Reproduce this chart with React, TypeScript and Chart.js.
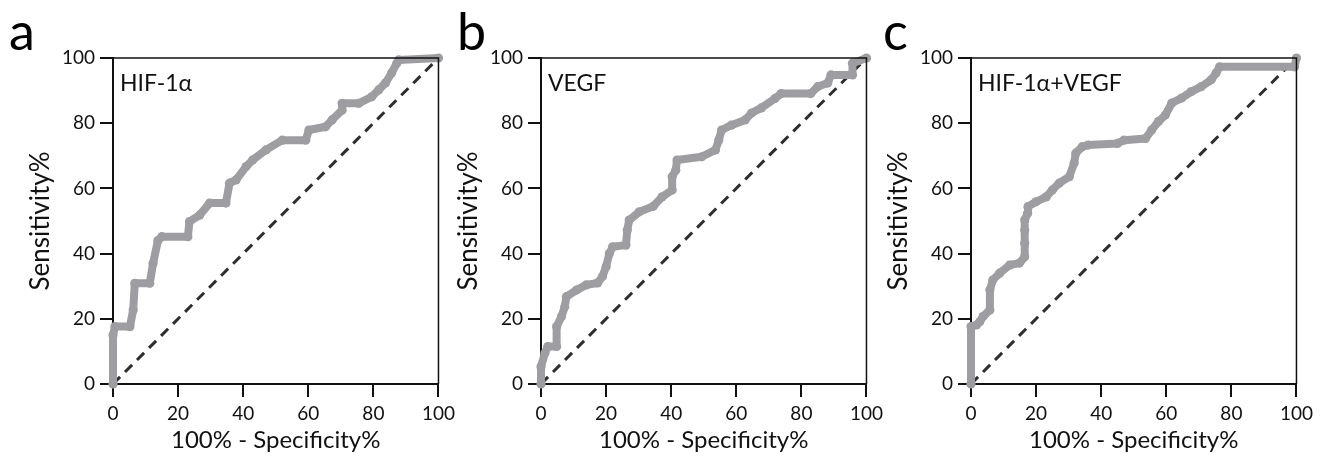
import { useEffect, useRef } from "react";
import { Chart, registerables } from "chart.js";

Chart.register(...registerables);

// ---- Data ----
const AXIS_TICKS = [0, 20, 40, 60, 80, 100];
const DIAG_X = [0, 100];
const DIAG_Y = [0, 100];

const A_FPR = [0, 0, 0.6, 5.2, 6.2, 6.7, 11.3, 12.3, 13.8, 15.0, 23.0, 23.5, 26.6, 29.7, 34.7, 35.8, 37.8, 40.9, 42.9, 47.0, 52.0, 59.2, 60.2, 65.3, 67.3, 70.4, 70.4, 75.5, 79.5, 81.6, 83.7, 85.6, 87.2, 87.8, 100];
const A_SENS = [0, 15.0, 17.6, 17.6, 22.7, 30.9, 30.9, 37.0, 44.0, 45.2, 45.2, 49.8, 51.8, 55.5, 55.5, 61.6, 62.6, 66.7, 68.7, 71.8, 74.8, 74.8, 77.9, 78.9, 81.0, 84.0, 86.1, 86.1, 88.1, 90.2, 92.3, 95.4, 98.4, 99.4, 100];

const B_FPR = [0, 0, 1.2, 2.1, 4.8, 4.8, 6.3, 7.3, 7.8, 10.9, 13.9, 17.4, 18.9, 20.0, 21.0, 22.0, 26.1, 26.5, 27.1, 30.2, 34.5, 37.2, 40.3, 40.3, 41.4, 41.8, 49.4, 53.6, 54.6, 55.5, 58.5, 62.7, 64.7, 67.7, 71.9, 73.8, 82.9, 85.0, 88.1, 89.1, 95.7, 95.7, 100];
const B_SENS = [0, 5.3, 9.5, 11.5, 11.5, 17.6, 20.7, 23.7, 26.8, 28.8, 30.4, 31.0, 33.0, 36.0, 40.0, 42.1, 42.6, 47.2, 50.3, 52.8, 54.5, 57.4, 59.5, 63.6, 65.6, 68.7, 69.7, 71.8, 74.8, 77.9, 79.4, 81.0, 83.1, 84.7, 87.6, 89.1, 89.1, 91.2, 92.3, 94.8, 94.8, 98.4, 100];

const C_FPR = [0, 0, 1.7, 2.7, 3.7, 5.8, 5.8, 6.7, 8.8, 11.9, 14.9, 16.5, 16.5, 16.5, 16.5, 17.4, 17.5, 20.0, 23.1, 25.0, 27.1, 30.2, 31.7, 32.2, 34.2, 36.0, 45.0, 47.0, 53.6, 55.5, 57.6, 59.7, 61.7, 64.7, 67.7, 70.7, 73.8, 75.3, 76.4, 99.4, 100];
const C_SENS = [0, 17.6, 18.1, 19.1, 20.7, 22.7, 28.8, 31.9, 34.0, 36.5, 37.1, 39.0, 43.2, 47.2, 50.3, 52.4, 54.4, 55.9, 57.4, 59.5, 61.6, 63.6, 67.8, 70.8, 72.8, 73.3, 73.8, 74.8, 75.3, 77.9, 80.5, 82.5, 86.2, 87.7, 89.7, 91.2, 93.3, 95.4, 97.3, 97.3, 100];

const PANEL_LETTERS = ["a", "b", "c"];
const PANEL_LABELS = ["HIF-1α", "VEGF", "HIF-1α+VEGF"];
const X_TITLE = "100% - Specificity%";
const Y_TITLE = "Sensitivity%";

const FONT = "Lato, 'Open Sans', sans-serif";
const INK = "#111111";
const CURVE = "#9e9ea2";

type PanelProps = {
  left: number;
  rightPad: number;
  letter: string;
  letterX: number;
  label: string;
  xs: number[];
  ys: number[];
};

const CANVAS_W = 460;
const CANVAS_H = 460;

function Panel({ left, rightPad, letter, letterX, label, xs, ys }: PanelProps) {
  const ref = useRef<HTMLCanvasElement | null>(null);

  useEffect(() => {
    if (!ref.current) return;
    const decor = {
      id: "decor",
      afterDraw(chart: any) {
        const { ctx, chartArea } = chart;
        ctx.save();
        // top and right frame
        ctx.strokeStyle = INK;
        ctx.lineWidth = 1.5;
        ctx.beginPath();
        ctx.moveTo(chartArea.left, chartArea.top);
        ctx.lineTo(chartArea.right, chartArea.top);
        ctx.lineTo(chartArea.right, chartArea.bottom);
        ctx.stroke();
        // panel letter
        ctx.fillStyle = "#000";
        ctx.textBaseline = "alphabetic";
        ctx.textAlign = "left";
        ctx.font = `52px ${FONT}`;
        ctx.fillText(letter, letterX, 50);
        // inner label
        ctx.fillStyle = INK;
        ctx.font = `23px ${FONT}`;
        ctx.fillText(label, chartArea.left + 7, 91);
        ctx.restore();
      },
    };
    const points = xs.map((x, i) => ({ x, y: ys[i] }));
    const diag = DIAG_X.map((x, i) => ({ x, y: DIAG_Y[i] }));
    const tickFont = { family: FONT, size: 19 };
    const chart = new Chart(ref.current, {
      type: "scatter",
      data: {
        datasets: [
          {
            data: points,
            showLine: true,
            borderColor: CURVE,
            backgroundColor: CURVE,
            pointBackgroundColor: CURVE,
            pointBorderColor: CURVE,
            borderWidth: 8,
            pointRadius: 4.6,
            pointBorderWidth: 0,
            borderJoinStyle: "round",
            borderCapStyle: "round",
            clip: false,
          } as any,
          {
            data: diag,
            showLine: true,
            borderColor: "#2e2e2e",
            borderWidth: 3,
            borderDash: [10, 7],
            pointRadius: 0,
            clip: false,
          } as any,
        ],
      },
      options: {
        responsive: false,
        animation: false,
        devicePixelRatio: 1,
        layout: { padding: { left: 0, right: rightPad, top: 58, bottom: 0 } },
        plugins: { legend: { display: false }, tooltip: { enabled: false } },
        scales: {
          x: {
            type: "linear",
            min: 0,
            max: 100,
            afterBuildTicks: (s: any) => {
              s.ticks = AXIS_TICKS.map((v) => ({ value: v }));
            },
            afterFit: (s: any) => {
              s.height = 76;
            },
            ticks: { color: INK, font: tickFont, padding: 5, maxRotation: 0, autoSkip: false },
            grid: { drawOnChartArea: false, drawTicks: true, tickLength: 13, color: INK, lineWidth: 2 },
            border: { display: true, color: INK, width: 2 },
            title: { display: true, text: X_TITLE, color: INK, font: { family: FONT, size: 24 }, padding: { top: 0, bottom: 5 } },
          },
          y: {
            type: "linear",
            min: 0,
            max: 100,
            afterBuildTicks: (s: any) => {
              s.ticks = AXIS_TICKS.map((v) => ({ value: v }));
            },
            afterFit: (s: any) => {
              s.width = 113;
            },
            ticks: { color: INK, font: tickFont, padding: 5, autoSkip: false },
            grid: { drawOnChartArea: false, drawTicks: true, tickLength: 13, color: INK, lineWidth: 2 },
            border: { display: true, color: INK, width: 2 },
            title: { display: true, text: Y_TITLE, color: INK, font: { family: FONT, size: 26 }, padding: { top: 25, bottom: 0 } },
          },
        },
      },
      plugins: [decor],
    } as any);
    return () => chart.destroy();
  }, [left, rightPad, letter, letterX, label, xs, ys]);

  return (
    <canvas
      ref={ref}
      width={CANVAS_W}
      height={CANVAS_H}
      style={{ position: "absolute", left, top: 0, width: CANVAS_W, height: CANVAS_H }}
    />
  );
}

export default function App() {
  return (
    <div style={{ position: "absolute", left: 0, top: 0, width: 1332, height: 460, background: "#fff", overflow: "hidden" }}>
      <Panel left={0} rightPad={20} letter={PANEL_LETTERS[0]} letterX={9} label={PANEL_LABELS[0]} xs={A_FPR} ys={A_SENS} />
      <Panel left={428} rightPad={19} letter={PANEL_LETTERS[1]} letterX={29} label={PANEL_LABELS[1]} xs={B_FPR} ys={B_SENS} />
      <Panel left={858} rightPad={19} letter={PANEL_LETTERS[2]} letterX={25} label={PANEL_LABELS[2]} xs={C_FPR} ys={C_SENS} />
    </div>
  );
}
